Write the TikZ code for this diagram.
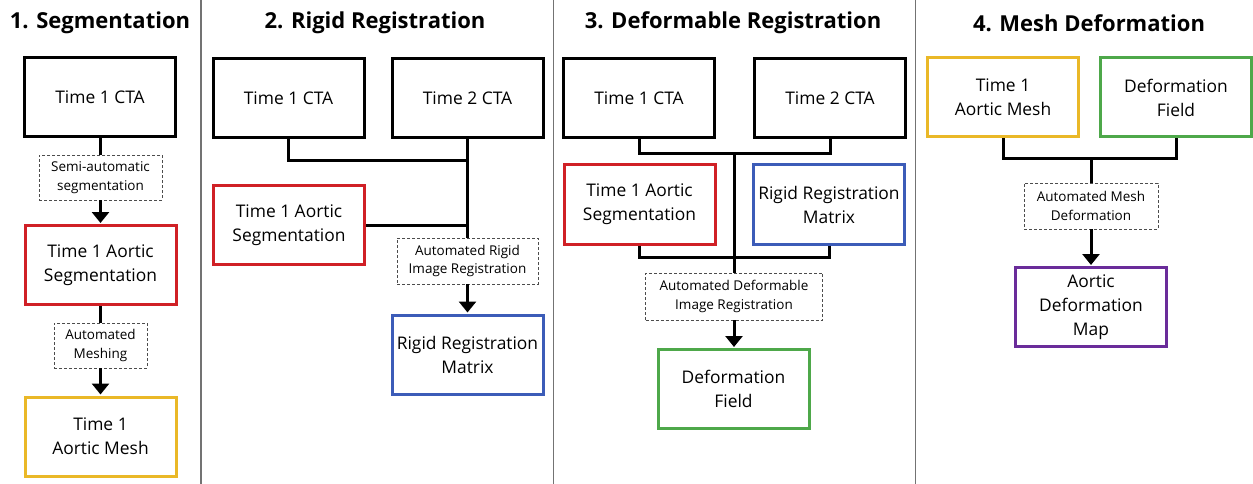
\documentclass[tikz,border=0pt]{standalone}
\usepackage{fontspec}
\setmainfont{Open Sans}
\usetikzlibrary{arrows.meta,calc}
\definecolor{cred}{RGB}{208,32,38}
\definecolor{cblue}{RGB}{60,92,184}
\definecolor{cyellow}{RGB}{234,184,40}
\definecolor{cgreen}{RGB}{78,168,74}
\definecolor{cpurple}{RGB}{106,44,154}
\begin{document}
\begin{tikzpicture}[x=1pt,y=-1pt,
  box/.style={draw, line width=3pt, minimum width=151pt, minimum height=79pt, align=center, font=\fontsize{17.4}{24}\selectfont, inner sep=0pt},
  proc/.style={draw=black!70, dash pattern=on 3pt off 2pt, line width=0.9pt, align=center, font=\fontsize{13.5}{18.5}\selectfont, inner sep=0pt},
  conn/.style={line width=3pt},
  arr/.style={line width=3pt, -{Triangle[width=17pt,length=11pt]}, shorten >=1pt},
  hdr/.style={font=\fontsize{22}{25}\selectfont\bfseries},
  sep/.style={draw=black!55, line width=1.3pt}]
\fill[white] (0,0) rectangle (1253,484);
\useasboundingbox (0,0) rectangle (1253,484);

% separators
\coordinate (s1t) at (201,0);   \coordinate (s1b) at (201,484);
\coordinate (s2t) at (553.5,0); \coordinate (s2b) at (553.5,484);
\coordinate (s3t) at (915.5,0); \coordinate (s3b) at (915.5,484);
\draw[sep] (s1t) -- (s1b);
\draw[sep] (s2t) -- (s2b);
\draw[sep] (s3t) -- (s3b);

% headers
\node[hdr] (h1) at (100,23) {1. Segmentation};
\node[hdr] (h2) at (375,23) {2. Rigid Registration};
\node[hdr] (h3) at (733,23) {3. Deformable Registration};
\node[hdr] (h4) at (1089,23) {4. Mesh Deformation};

% Panel 1
\node[box] (p1cta) at (100,97) {Time 1 CTA};
\node[proc, minimum width=123pt, minimum height=45pt] (p1d1) at (100.5,177.5) {Semi-automatic\\segmentation};
\node[box, draw=cred] (p1seg) at (100.5,265) {Time 1 Aortic\\Segmentation};
\node[proc, minimum width=93pt, minimum height=45pt] (p1d2) at (100.5,345.5) {Automated\\Meshing};
\node[box, draw=cyellow] (p1mesh) at (100.5,436.5) {Time 1\\Aortic Mesh};
\draw[conn] (p1cta.south) -- (p1cta.south |- p1d1.north);
\draw[arr] (p1d1.south) -- (p1seg.north);
\draw[conn] (p1seg.south) -- (p1d2.north);
\draw[arr] (p1d2.south) -- (p1mesh.north);

% Panel 2
\node[box] (p2t1) at (288.5,98) {Time 1 CTA};
\node[box] (p2t2) at (467.5,98) {Time 2 CTA};
\node[box, draw=cred] (p2seg) at (289,225) {Time 1 Aortic\\Segmentation};
\node[proc, minimum width=141pt, minimum height=46pt] (p2d) at (467.5,261) {Automated Rigid\\Image Registration};
\node[box, draw=cblue] (p2mat) at (467.5,354.5) {Rigid Registration\\Matrix};
\coordinate (p2j) at (467.5,161);
\draw[conn] (p2t1.south) |- (p2j);
\draw[conn] (p2t2.south) -- (p2d.north);
\draw[conn] (p2seg.east) -- (p2seg.east -| p2d.north);
\draw[arr] (p2d.south) -- (p2mat.north);

% Panel 3
\node[box] (p3t1) at (639,98) {Time 1 CTA};
\node[box] (p3t2) at (830,98) {Time 2 CTA};
\node[box, draw=cred] (p3seg) at (639.5,204.5) {Time 1 Aortic\\Segmentation};
\node[box, draw=cblue] (p3mat) at (829,204.5) {Rigid Registration\\Matrix};
\node[proc, minimum width=177pt, minimum height=47pt] (p3d) at (734,296.5) {Automated Deformable\\Image Registration};
\node[box, draw=cgreen] (p3fld) at (733.5,389) {Deformation\\Field};
\coordinate (p3ja) at (734,154);
\coordinate (p3jb) at (734,257);
\draw[conn] (p3t1.south) |- (p3ja);
\draw[conn] (p3t2.south) |- (p3ja);
\draw[conn] (p3seg.south) |- (p3jb);
\draw[conn] (p3mat.south) |- (p3jb);
\draw[conn] (p3ja) -- (p3d.north);
\draw[arr] (p3d.south) -- (p3d.south |- p3fld.north);

% Panel 4
\node[box, draw=cyellow] (p4mesh) at (1003,97.5) {Time 1\\Aortic Mesh};
\node[box, draw=cgreen] (p4fld) at (1176,97.5) {Deformation\\Field};
\node[proc, minimum width=134pt, minimum height=46pt] (p4d) at (1091,206) {Automated Mesh\\Deformation};
\node[box, draw=cpurple] (p4map) at (1091,307) {Aortic\\Deformation\\Map};
\coordinate (p4j) at (1091,159);
\draw[conn] (p4mesh.south) |- (p4j);
\draw[conn] (p4fld.south) |- (p4j);
\draw[conn] (p4j) -- (p4d.north);
\draw[arr] (p4d.south) -- (p4map.north);
\end{tikzpicture}
\end{document}
